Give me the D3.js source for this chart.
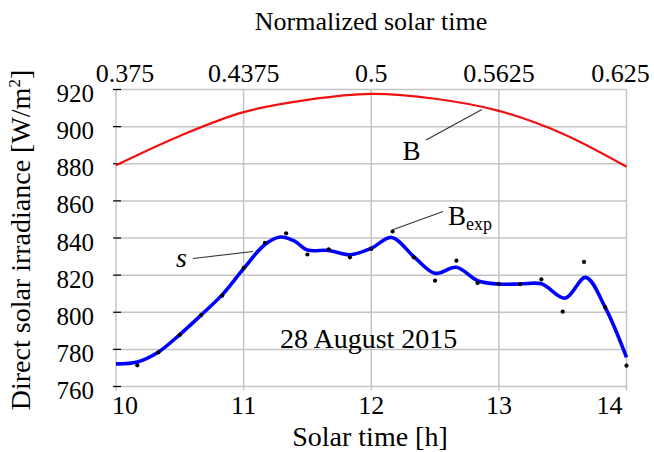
<!DOCTYPE html>
<html>
<head>
<meta charset="utf-8">
<script src="https://cdn.jsdelivr.net/npm/d3@7"></script>
<style>
body { margin: 0; background: #fff; }
svg text { font-family: "Liberation Serif", "Tinos", "Times New Roman", "DejaVu Serif", serif; fill: #000; }
</style>
</head>
<body>
<svg id="chart" width="654" height="452"></svg>
<script>
/* Direct solar irradiance, 28 August 2015.
   B = clear-sky model curve, Bexp = measured points, s = smoothing curve. */

const hourTicks = [10, 11, 12, 13, 14];
const normTicks = [0.375, 0.4375, 0.5, 0.5625, 0.625];
const irrTicks = [760, 780, 800, 820, 840, 860, 880, 900, 920];

// model curve B
const bTime = [10, 10.5, 11, 11.5, 12, 12.5, 13, 13.5, 14];
const bValue = [879.2, 895, 907.8, 914.4, 917.6, 915, 908.5, 896.2, 878.4];

// measured points Bexp (every 10 minutes)
const expTime = [10.167, 10.333, 10.5, 10.667, 10.833, 11, 11.167, 11.333, 11.5, 11.667, 11.833, 12,
                 12.167, 12.333, 12.5, 12.667, 12.833, 13, 13.167, 13.333, 13.5, 13.667, 13.833, 14];
const expValue = [771.4, 778.4, 787.8, 798.5, 809, 823.9, 837.4, 842.5, 831.1, 833.9, 829.6, 834.1,
                  843.5, 829.6, 817, 827.8, 815.8, 815.2, 815.2, 817.7, 800.3, 827.1, 802.6, 771.2];

// smoothing curve s
const sTime = [10, 10.167, 10.333, 10.5, 10.667, 10.833, 11, 11.167, 11.29, 11.4, 11.5, 11.667, 11.833, 12,
               12.16, 12.333, 12.5, 12.667, 12.833, 13, 13.167, 13.333, 13.52, 13.68, 13.833, 14];
const sValue = [772.2, 773.2, 778.6, 788, 798.5, 809.5, 823.5, 836.5, 840.5, 838.3, 833.5, 833.3, 831, 834.5,
                840.3, 830, 821, 824.2, 817, 815.2, 815.2, 815.3, 807.6, 818.8, 802.6, 775.7];

const svg = d3.select('#chart');
const x = d3.scaleLinear().domain([10, 14]).range([116, 626.5]);
const xTop = d3.scaleLinear().domain([0.375, 0.625]).range([116, 626.5]);
const y = d3.scaleLinear().domain([760, 920]).range([386.5, 89.5]);
const gridColor = '#c4c4c4';

// grid
svg.append('g').selectAll('line').data(irrTicks).join('line')
    .attr('x1', x(10)).attr('x2', x(14))
    .attr('y1', d => y(d)).attr('y2', d => y(d))
    .attr('stroke', gridColor).attr('stroke-width', 1.5);
svg.append('g').selectAll('line').data(hourTicks).join('line')
    .attr('x1', d => x(d)).attr('x2', d => x(d))
    .attr('y1', y(920)).attr('y2', y(760) + 4)
    .attr('stroke', gridColor).attr('stroke-width', 1.5);

// small black ticks on the left axis
svg.append('g').selectAll('line').data(irrTicks).join('line')
    .attr('x1', x(10) - 3).attr('x2', x(10) + 5)
    .attr('y1', d => y(d)).attr('y2', d => y(d))
    .attr('stroke', '#000').attr('stroke-width', 1.2);

// tick labels
svg.append('g').selectAll('text').data(irrTicks).join('text')
    .attr('x', 94).attr('y', d => y(d) + 12.5)
    .attr('text-anchor', 'end').style('font-size', '25px')
    .text(d => d);

const edgeShift = (i, n, first, last) => i === 0 ? first : (i === n - 1 ? last : 0);
svg.append('g').selectAll('text').data(hourTicks).join('text')
    .attr('x', (d, i) => x(d) + edgeShift(i, hourTicks.length, 9, -17))
    .attr('y', 413.5)
    .attr('text-anchor', 'middle').style('font-size', '26px')
    .text(d => d);
svg.append('g').selectAll('text').data(normTicks).join('text')
    .attr('x', (d, i) => xTop(d) + edgeShift(i, normTicks.length, 9, -6))
    .attr('y', 82)
    .attr('text-anchor', 'middle').style('font-size', '26px')
    .text(d => String(d));

// axis titles
svg.append('text').attr('x', 371).attr('y', 30)
    .attr('text-anchor', 'middle').style('font-size', '26px')
    .text('Normalized solar time');
svg.append('text').attr('x', 370).attr('y', 446)
    .attr('text-anchor', 'middle').style('font-size', '28px')
    .text('Solar time [h]');
const yTitle = svg.append('text')
    .attr('transform', 'translate(30,240) rotate(-90)')
    .attr('text-anchor', 'middle').style('font-size', '28px');
yTitle.append('tspan').text('Direct solar irradiance  [W/m');
yTitle.append('tspan').attr('dy', -10).style('font-size', '17px').text('2');
yTitle.append('tspan').attr('dy', 10).text(']');

// curves
const line = d3.line().curve(d3.curveCatmullRom.alpha(0.5));
svg.append('path')
    .attr('d', line(bTime.map((t, i) => [x(t), y(bValue[i])])))
    .attr('fill', 'none').attr('stroke', '#f01010').attr('stroke-width', 2.2);
svg.append('path')
    .attr('d', line(sTime.map((t, i) => [x(t), y(sValue[i])])))
    .attr('fill', 'none').attr('stroke', '#0000ff').attr('stroke-width', 3.6)
    .attr('stroke-linejoin', 'round');
svg.append('g').selectAll('circle').data(expTime).join('circle')
    .attr('cx', d => x(d)).attr('cy', (d, i) => y(expValue[i]))
    .attr('r', 2.1).attr('fill', '#000');

// annotations
const leader = (x1, y1, x2, y2) => svg.append('line')
    .attr('x1', x1).attr('y1', y1).attr('x2', x2).attr('y2', y2)
    .attr('stroke', '#333').attr('stroke-width', 1.1);
leader(426, 140, 482, 109.5);
svg.append('text').attr('x', 411.5).attr('y', 160)
    .attr('text-anchor', 'middle').style('font-size', '27px').text('B');

leader(193, 258.5, 253, 251.5);
svg.append('text').attr('x', 181.5).attr('y', 267)
    .attr('text-anchor', 'middle').style('font-size', '28px').style('font-style', 'italic').text('s');

leader(443, 211.5, 392, 230);
const bexp = svg.append('text').attr('x', 448).attr('y', 225).style('font-size', '27px');
bexp.append('tspan').text('B');
bexp.append('tspan').attr('dy', 5).style('font-size', '18px').text('exp');

svg.append('text').attr('x', 280).attr('y', 347.5)
    .style('font-size', '28px').text('28 August 2015');
</script>
</body>
</html>
